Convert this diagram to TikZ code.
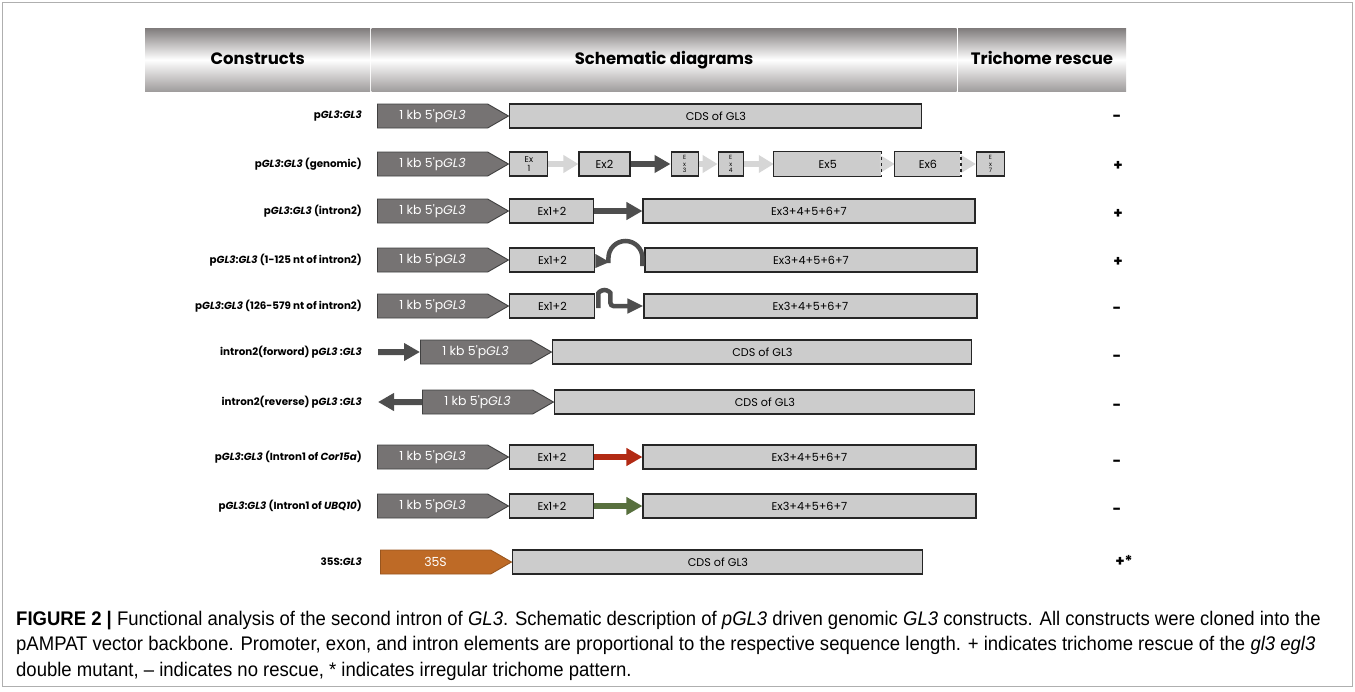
\documentclass[tikz,border=0pt]{standalone}
\usepackage{fontspec}
\setmainfont{Liberation Sans}
\newfontfamily\capfont[FakeStretch=0.94]{Liberation Sans}
\newfontfamily\dgfont{Poppins}
\usetikzlibrary{arrows.meta, positioning, shapes.symbols}
\definecolor{promgray}{RGB}{118,115,115}
\definecolor{boxgray}{RGB}{204,204,204}
\definecolor{lightarr}{RGB}{214,214,214}
\definecolor{darkarr}{RGB}{78,78,78}
\definecolor{corred}{RGB}{178,42,20}
\definecolor{ubqgreen}{RGB}{88,112,62}
\definecolor{orange35}{RGB}{190,106,38}
\definecolor{hdrgray}{RGB}{128,124,124}
\definecolor{framegray}{RGB}{175,175,175}

\begin{document}
\begin{tikzpicture}[x=1pt, y=-1pt,
    node distance=0pt,
    hdr/.style={minimum height=63, inner sep=0, text height=13, text depth=4, anchor=north west, top color=hdrgray, bottom color=hdrgray!75, middle color=white, font=\dgfont\fontsize{16.5}{18}\selectfont\bfseries},
    lbl/.style={anchor=east, inner sep=0, font=\dgfont\fontsize{10.3}{12}\selectfont\bfseries},
    prom/.style={signal, signal to=east, signal pointer angle=60, draw=black!75, fill=promgray, line width=0.9pt, minimum height=24, minimum width=131, inner sep=0, anchor=west, text=white, font=\dgfont\fontsize{12.5}{14}\selectfont},
    exbox/.style={draw=black!85, fill=boxgray, line width=1.1pt, minimum height=24, inner sep=0, align=center, font=\dgfont\fontsize{11.2}{13}\selectfont},
    openbox/.style={exbox, draw=none},
    tinyex/.style={font=\dgfont\fontsize{6}{6.8}\selectfont},
    dkarr/.style={line width=6pt, darkarr, -{Triangle[length=16pt, width=17pt]}},
    lgtarr/.style={line width=6pt, lightarr, -{Triangle[length=15pt, width=17pt]}},
    arcline/.style={line width=4.5pt, darkarr},
    res/.style={inner sep=0, font=\dgfont\fontsize{15}{16}\selectfont\bfseries},
    capt/.style={anchor=north west, inner sep=0, align=left, font=\capfont\fontsize{19.7}{25.5}\selectfont}
  ]
  \useasboundingbox (0,0) rectangle (1355,691);
  \draw[framegray, line width=1pt] (2,2) rectangle (1352,686);

  % header
  \node[hdr, minimum width=225] (h1) at (145,28) {Constructs};
  \node[hdr, minimum width=585, right=1pt of h1] (h2) {Schematic diagrams};
  \node[hdr, minimum width=168, right=1pt of h2] (h3) {Trichome rescue};

  % pGL3:GL3
  \node[lbl] (l1) at (362,116) {p\textit{GL3}:\textit{GL3}};
  \node[prom] (p1) at (377,116) {1 kb 5'p\textit{GL3}};
  \node[exbox, minimum width=412, right=of p1] (c1) {CDS of GL3};
  \node[res] (r1) at (1117,118) {-};

  % genomic
  \node[lbl] (l2) at (362,164) {p\textit{GL3}:\textit{GL3} (genomic)};
  \node[prom] (p2) at (377,164) {1 kb 5'p\textit{GL3}};
  \node[exbox, font=\dgfont\fontsize{8.5}{8.5}\selectfont, minimum width=38, right=of p2] (g1) {Ex\\1};
  \node[exbox, minimum width=51, right=30pt of g1] (g2) {Ex2};
  \node[exbox, tinyex, minimum width=27, right=40pt of g2] (g3) {E\\x\\3};
  \node[exbox, tinyex, minimum width=25, right=19pt of g3] (g4) {E\\x\\4};
  \node[openbox, minimum width=107, right=30pt of g4] (g5) {Ex5};
  \node[openbox, minimum width=65, right=13pt of g5] (g6) {Ex6};
  \node[exbox, tinyex, minimum width=28, right=15pt of g6] (g7) {E\\x\\7};
  \draw[lgtarr] (g1) -- (g2);
  \draw[dkarr] (g2) -- (g3);
  \draw[lgtarr] (g3) -- (g4);
  \draw[lgtarr] (g4) -- (g5);
  \draw[lgtarr] (g5) -- (g6);
  \draw[lgtarr] (g6) -- (g7);
  \draw[black!85, line width=1.1pt] (g5.north east) -- (g5.north west) -- (g5.south west) -- (g5.south east);
  \draw[black!85, line width=1.1pt, dashed] (g5.north east) -- (g5.south east);
  \draw[black!85, line width=1.1pt] (g6.north east) -- (g6.north west) -- (g6.south west) -- (g6.south east);
  \draw[black!85, line width=1.1pt, dashed] (g6.north east) -- (g6.south east);
  \node[res] (r2) at (1118,166) {+};

  % intron2
  \node[lbl] (l3) at (362,211) {p\textit{GL3}:\textit{GL3} (intron2)};
  \node[prom] (p3) at (377,211) {1 kb 5'p\textit{GL3}};
  \node[exbox, minimum width=84, right=of p3] (a3) {Ex1+2};
  \node[exbox, minimum width=332, right=48pt of a3] (b3) {Ex3+4+5+6+7};
  \draw[dkarr] (a3) -- (b3);
  \node[res] (r3) at (1118,214) {+};

  % 1-125 nt
  \node[lbl] (l4) at (362,260) {p\textit{GL3}:\textit{GL3} (1-125 nt of intron2)};
  \node[prom] (p4) at (377,260) {1 kb 5'p\textit{GL3}};
  \node[exbox, minimum width=85, right=of p4] (a4) {Ex1+2};
  \node[exbox, minimum width=332, right=49pt of a4] (b4) {Ex3+4+5+6+7};
  \fill[darkarr] (a4.east) ++(0,-6) -- ++(14,8) -- ++(-14,6) -- cycle;
  \draw[arcline] (a4.east) ++(13,3) -- ++(0,-5) arc[start angle=180, end angle=360, radius=17] -- ++(0,8);
  \node[res] (r4) at (1118,262) {+};

  % 126-579 nt
  \node[lbl] (l5) at (362,306) {p\textit{GL3}:\textit{GL3} (126-579 nt of intron2)};
  \node[prom] (p5) at (377,306) {1 kb 5'p\textit{GL3}};
  \node[exbox, minimum width=85, right=of p5] (a5) {Ex1+2};
  \node[exbox, minimum width=333, right=48pt of a5] (b5) {Ex3+4+5+6+7};
  \draw[arcline, rounded corners=3pt, -{Triangle[length=16pt, width=14pt]}] (a5.east) ++(3,2) -- ++(0,-12) arc[start angle=180, end angle=360, radius=6] -- ++(0,10) -- (b5.west);
  \node[res] (r5) at (1117,310) {-};

  % intron2 forward
  \node[lbl] (l6) at (362,352) {intron2(forword) p\textit{GL3} :\textit{GL3}};
  \coordinate (f6) at (378,352);
  \node[prom] (p6) at (420,352) {1 kb 5'p\textit{GL3}};
  \node[exbox, minimum width=419, right=of p6] (c6) {CDS of GL3};
  \draw[dkarr] (f6) -- (p6);
  \node[res] (r6) at (1117,358) {-};

  % intron2 reverse
  \node[lbl] (l7) at (362,402) {intron2(reverse) p\textit{GL3} :\textit{GL3}};
  \coordinate (f7) at (378,402);
  \node[prom] (p7) at (422,402) {1 kb 5'p\textit{GL3}};
  \node[exbox, minimum width=420, right=of p7] (c7) {CDS of GL3};
  \draw[dkarr] (p7) -- (f7);
  \node[res] (r7) at (1117,407) {-};

  % Cor15a
  \node[lbl] (l8) at (362,457) {p\textit{GL3}:\textit{GL3} (Intron1 of \textit{Cor15a})};
  \node[prom] (p8) at (377,457) {1 kb 5'p\textit{GL3}};
  \node[exbox, minimum width=84, right=of p8] (a8) {Ex1+2};
  \node[exbox, minimum width=333, right=48pt of a8] (b8) {Ex3+4+5+6+7};
  \draw[dkarr, corred] (a8) -- (b8);
  \node[res] (r8) at (1117,463) {-};

  % UBQ10
  \node[lbl] (l9) at (362,506) {p\textit{GL3}:\textit{GL3} (Intron1 of \textit{UBQ10})};
  \node[prom] (p9) at (377,506) {1 kb 5'p\textit{GL3}};
  \node[exbox, minimum width=84, right=of p9] (a9) {Ex1+2};
  \node[exbox, minimum width=333, right=48pt of a9] (b9) {Ex3+4+5+6+7};
  \draw[dkarr, ubqgreen] (a9) -- (b9);
  \node[res] (r9) at (1117,511) {-};

  % 35S
  \node[lbl] (l10) at (362,562) {35S:\textit{GL3}};
  \node[prom, fill=orange35, draw=orange35!80!black] (p10) at (380,562) {35S};
  \node[exbox, minimum width=410, right=of p10] (c10) {CDS of GL3};
  \node[res] (r10) at (1124,561) {+*};

  % legend text
  \node[capt] (cap) at (16,611) {\textbf{FIGURE 2 \textbar} Functional analysis of the second intron of \textit{GL3}. Schematic description of \textit{pGL3} driven genomic \textit{GL3} constructs. All constructs were cloned into the\\
    pAMPAT vector backbone. Promoter, exon, and intron elements are proportional to the respective sequence length. + indicates trichome rescue of the \textit{gl3 egl3}\\
    double mutant, – indicates no rescue, * indicates irregular trichome pattern.};
\end{tikzpicture}
\end{document}
